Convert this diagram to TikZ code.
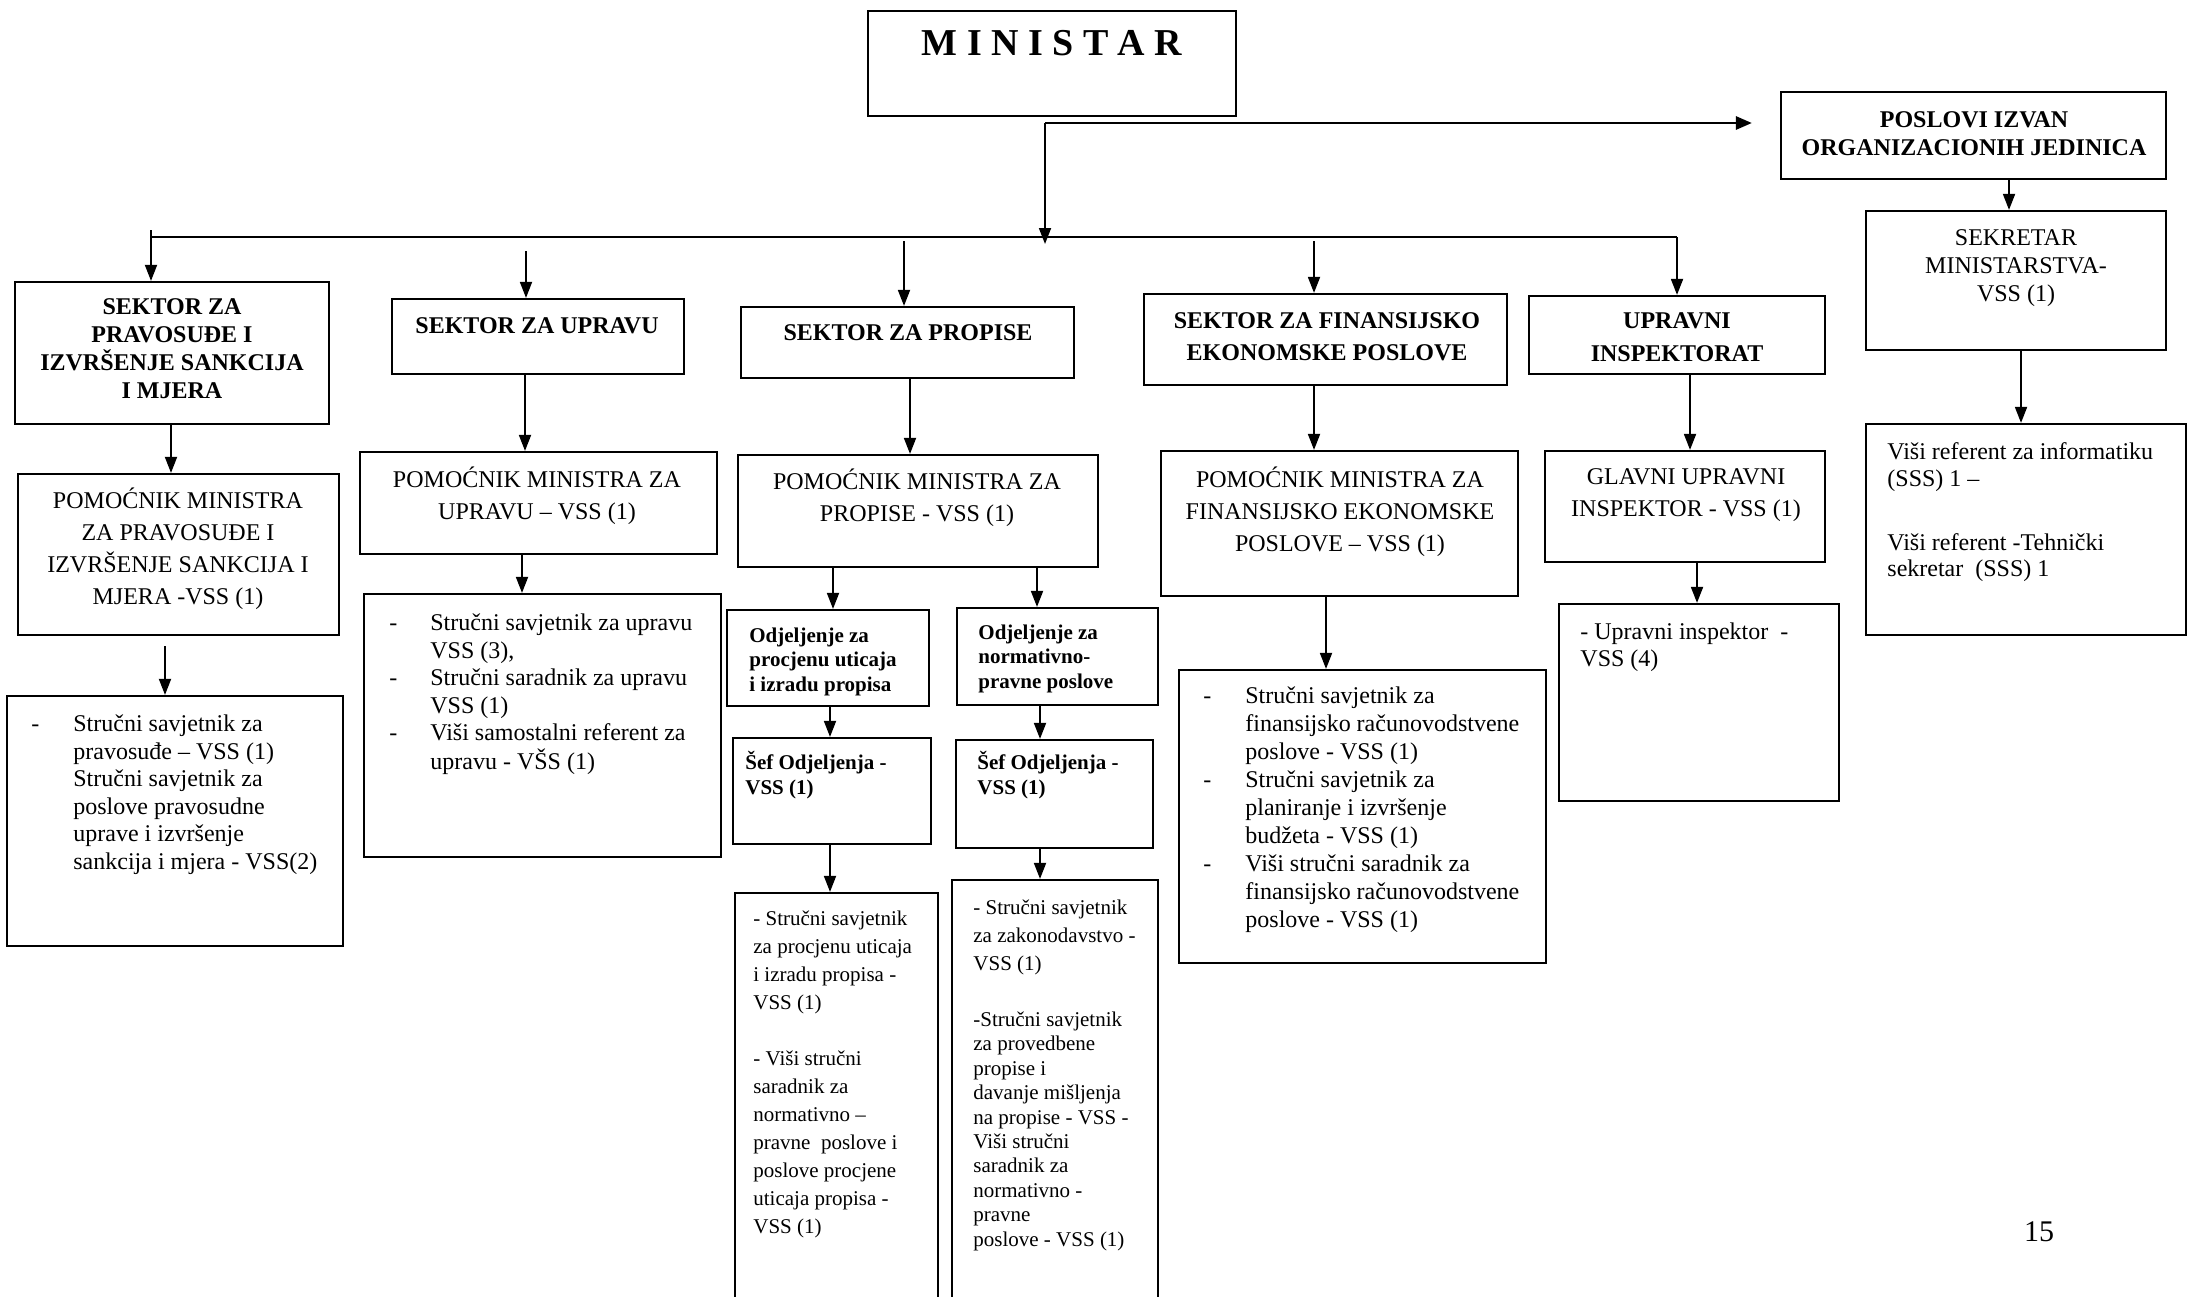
\documentclass[tikz,border=0pt]{standalone}
\usepackage{fontspec}
\setmainfont{Liberation Serif}
\usetikzlibrary{arrows.meta,fit}
\newcommand{\ztop}{\rule{0pt}{12pt}}
\newcommand{\fHd}{\fontsize{12}{14}\selectfont\bfseries}
\newcommand{\fHdw}{\fontsize{12}{16}\selectfont\bfseries}
\newcommand{\fRg}{\fontsize{12}{16}\selectfont}
\newcommand{\fLs}{\fontsize{12}{13.8}\selectfont}
\newcommand{\fOd}{\fontsize{10.5}{12.2}\selectfont\bfseries}
\newcommand{\fSm}{\fontsize{10.5}{14}\selectfont}
\tikzset{
  box/.style={draw, line width=1.1pt, inner sep=0pt},
  txt/.style={anchor=north, inner sep=0pt, align=center},
  ltxt/.style={anchor=north west, inner sep=0pt, align=left},
  arr/.style={line width=0.9pt, -{Triangle[length=8pt,width=6pt]}},
  arrT/.style={line width=1.4pt, -{Triangle[length=8pt,width=6.5pt]}},
  busline/.style={line width=1.4pt}
}
\begin{document}
\begin{tikzpicture}[x=0.5pt,y=-0.5pt]
\useasboundingbox (0,0) rectangle (2188,1296);
\fill[white] (0,0) rectangle (2188,1296);
\clip (0,0) rectangle (2188,1296);

% ---------- top ----------
\node[box, fit={(868,11) (1236,116)}] (mini) {};
\node[txt, font=\fontsize{19}{22}\selectfont\bfseries] (tmini) at (1052,27) {\rule{0pt}{14pt}M I N I S T A R};

\node[box, fit={(1781,92) (2166,179)}] (pos) {};
\node[txt, font=\fHd] (tpos) at (1974,103) {\ztop POSLOVI IZVAN\\ORGANIZACIONIH JEDINICA};

\node[box, fit={(1866,211) (2166,350)}] (sek) {};
\node[txt, font=\fontsize{12}{14}\selectfont] (tsek) at (2016,221) {\ztop SEKRETAR\\MINISTARSTVA-\\VSS (1)};

\node[box, fit={(1866,424) (2186,635)}] (vis) {};
\node[ltxt, font=\fontsize{12}{13.3}\selectfont] (tvis) at (1887,435) {\ztop Viši referent za informatiku\\(SSS) 1 –\\[18.7pt]Viši referent -Tehnički\\sekretar\ \ (SSS) 1};

% ---------- level 1 ----------
\node[box, fit={(15,282) (329,424)}] (a1) {};
\node[txt, font=\fHd] (ta1) at (172,290) {\ztop SEKTOR ZA\\PRAVOSUĐE I\\IZVRŠENJE SANKCIJA\\I MJERA};
\node[box, fit={(392,299) (684,374)}] (a2) {};
\node[txt, font=\fHd] (ta2) at (537,309) {\ztop SEKTOR ZA UPRAVU};
\node[box, fit={(741,307) (1074,378)}] (a3) {};
\node[txt, font=\fHd] (ta3) at (908,316) {\ztop SEKTOR ZA PROPISE};
\node[box, fit={(1144,294) (1507,385)}] (a4) {};
\node[txt, font=\fHdw] (ta4) at (1327,304) {\ztop SEKTOR ZA FINANSIJSKO\\EKONOMSKE POSLOVE};
\node[box, fit={(1529,296) (1825,374)}] (a5) {};
\node[txt, font=\fontsize{12}{16.7}\selectfont\bfseries] (ta5) at (1677,304) {\ztop UPRAVNI\\INSPEKTORAT};

% ---------- level 2 ----------
\node[box, fit={(18,474) (339,635)}] (b1) {};
\node[txt, font=\fRg] (tb1) at (178,484) {\ztop POMOĆNIK MINISTRA\\ZA PRAVOSUĐE I\\IZVRŠENJE SANKCIJA I\\MJERA -VSS (1)};
\node[box, fit={(360,452) (717,554)}] (b2) {};
\node[txt, font=\fRg] (tb2) at (537,463) {\ztop POMOĆNIK MINISTRA ZA\\UPRAVU – VSS (1)};
\node[box, fit={(738,455) (1098,567)}] (b3) {};
\node[txt, font=\fRg] (tb3) at (917,465) {\ztop POMOĆNIK MINISTRA ZA\\PROPISE - VSS (1)};
\node[box, fit={(1161,451) (1518,596)}] (b4) {};
\node[txt, font=\fRg] (tb4) at (1340,463) {\ztop POMOĆNIK MINISTRA ZA\\FINANSIJSKO EKONOMSKE\\POSLOVE – VSS (1)};
\node[box, fit={(1545,451) (1825,562)}] (b5) {};
\node[txt, font=\fRg] (tb5) at (1686,460) {\ztop GLAVNI UPRAVNI\\INSPEKTOR - VSS (1)};

% ---------- level 3 ----------
\node[box, fit={(7,696) (343,946)}] (c1) {};
\node[ltxt, font=\fLs] (tc1) at (31,707) {\begin{tabular}{@{}p{21pt}@{}l@{}}
\ztop- & Stručni savjetnik za\\
 & pravosuđe – VSS (1)\\
 & Stručni savjetnik za\\
 & poslove pravosudne\\
 & uprave i izvršenje\\
 & sankcija i mjera - VSS(2)
\end{tabular}};

\node[box, fit={(364,594) (721,857)}] (c2) {};
\node[ltxt, font=\fLs] (tc2) at (389,606) {\begin{tabular}{@{}p{20.5pt}@{}l@{}}
\ztop- & Stručni savjetnik za upravu\\
 & VSS (3),\\
- & Stručni saradnik za upravu\\
 & VSS (1)\\
- & Viši samostalni referent za\\
 & upravu - VŠS (1)
\end{tabular}};

\node[box, fit={(727,610) (929,706)}] (d1) {};
\node[ltxt, font=\fOd] (td1) at (749,618) {\ztop Odjeljenje za\\procjenu uticaja\\i izradu propisa};
\node[box, fit={(957,608) (1158,705)}] (d2) {};
\node[ltxt, font=\fOd] (td2) at (978,615) {\ztop Odjeljenje za\\normativno-\\pravne poslove};

\node[box, fit={(733,738) (931,844)}] (e1) {};
\node[ltxt, font=\fontsize{10.5}{12.6}\selectfont\bfseries] (te1) at (745,745) {\ztop Šef Odjeljenja -\\VSS (1)};
\node[box, fit={(956,740) (1153,848)}] (e2) {};
\node[ltxt, font=\fontsize{10.5}{12.6}\selectfont\bfseries] (te2) at (977,745) {\ztop Šef Odjeljenja -\\VSS (1)};

\node[box, fit={(735,893) (938,1320)}] (f1) {};
\node[ltxt, font=\fSm] (tf1) at (753,901) {\ztop - Stručni savjetnik\\za procjenu uticaja\\i izradu propisa -\\VSS (1)\\[14pt]- Viši stručni\\saradnik za\\normativno –\\pravne\ \ poslove i\\poslove procjene\\uticaja propisa -\\VSS (1)};
\node[box, fit={(952,880) (1158,1320)}] (f2) {};
\node[ltxt, font=\fontsize{10.5}{12.2}\selectfont] (tf2) at (973,890) {\ztop - Stručni savjetnik\\[1.8pt]za zakonodavstvo -\\[1.8pt]VSS (1)\\[15.8pt]-Stručni savjetnik\\za provedbene\\propise i\\davanje mišljenja\\na propise - VSS -\\Viši stručni\\saradnik za\\normativno -\\pravne\\poslove - VSS (1)};

\node[box, fit={(1179,670) (1546,963)}] (g) {};
\node[ltxt, font=\fontsize{12}{14}\selectfont] (tg) at (1203,679) {\begin{tabular}{@{}p{21pt}@{}l@{}}
\ztop- & Stručni savjetnik za\\
 & finansijsko računovodstvene\\
 & poslove - VSS (1)\\
- & Stručni savjetnik za\\
 & planiranje i izvršenje\\
 & budžeta - VSS (1)\\
- & Viši stručni saradnik za\\
 & finansijsko računovodstvene\\
 & poslove - VSS (1)
\end{tabular}};

\node[box, fit={(1559,604) (1839,801)}] (h) {};
\node[ltxt, font=\fontsize{12}{13.3}\selectfont] (th) at (1580,615) {\ztop - Upravni inspektor\ \ -\\VSS (4)};

\node[inner sep=0pt, font=\fontsize{15}{18}\selectfont] (pg) at (2039,1232) {15};

% ---------- connectors ----------
\coordinate (c0) at (1045,123);
\coordinate (busL) at (151,237);
\coordinate (busR) at (1677,237);
\coordinate (busM) at (1045,244);
\draw[busline] (busL) -- (busR);
\draw[arrT, shorten >=14pt] (c0) -- (c0 -| pos.west);
\draw[arr] (c0) -- (busM);

\coordinate (s1) at (151,230);
\coordinate (s2) at (526,251);
\coordinate (s3) at (904,241);
\coordinate (s4) at (1314,241);
\coordinate (s5) at (1677,237);
\draw[arr] (s1) -- (s1 |- a1.north);
\draw[arr] (s2) -- (s2 |- a2.north);
\draw[arr] (s3) -- (s3 |- a3.north);
\draw[arr] (s4) -- (s4 |- a4.north);
\draw[arr] (s5) -- (s5 |- a5.north);

\coordinate (k171) at (171,0);
\coordinate (k165) at (165,0);
\coordinate (k525) at (525,0);
\coordinate (k522) at (522,0);
\coordinate (k910) at (910,0);
\coordinate (k833) at (833,0);
\coordinate (k1037) at (1037,0);
\coordinate (k830) at (830,0);
\coordinate (k1040) at (1040,0);
\coordinate (k1314) at (1314,0);
\coordinate (k1326) at (1326,0);
\coordinate (k1690) at (1690,0);
\coordinate (k1697) at (1697,0);
\coordinate (k2009) at (2009,0);
\coordinate (k2021) at (2021,0);

\draw[arr] (a1.south -| k171) -- (b1.north -| k171);
\draw[arr, shorten <=5pt] (b1.south -| k165) -- (c1.north -| k165);
\draw[arr] (a2.south -| k525) -- (b2.north -| k525);
\draw[arr] (b2.south -| k522) -- (c2.north -| k522);
\draw[arr] (a3.south -| k910) -- (b3.north -| k910);
\draw[arr] (b3.south -| k833) -- (d1.north -| k833);
\draw[arr] (b3.south -| k1037) -- (d2.north -| k1037);
\draw[arr] (d1.south -| k830) -- (e1.north -| k830);
\draw[arr] (d2.south -| k1040) -- (e2.north -| k1040);
\draw[arr] (e1.south -| k830) -- (f1.north -| k830);
\draw[arr] (e2.south -| k1040) -- (f2.north -| k1040);
\draw[arr] (a4.south -| k1314) -- (b4.north -| k1314);
\draw[arr] (b4.south -| k1326) -- (g.north -| k1326);
\draw[arr] (a5.south -| k1690) -- (b5.north -| k1690);
\draw[arr] (b5.south -| k1697) -- (h.north -| k1697);
\draw[arr] (pos.south -| k2009) -- (sek.north -| k2009);
\draw[arr] (sek.south -| k2021) -- (vis.north -| k2021);
\end{tikzpicture}
\end{document}
